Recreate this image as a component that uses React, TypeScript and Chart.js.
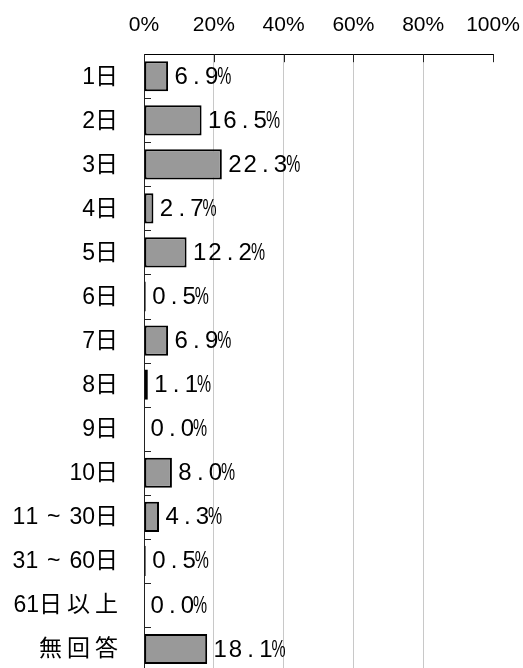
import React, { useEffect, useRef } from "react";
import { Chart, registerables } from "chart.js";

Chart.register(...registerables);

const categories: string[] = [
  "1日", "2日", "3日", "4日", "5日", "6日", "7日", "8日", "9日", "10日",
  "11 ~ 30日", "31 ~ 60日", "61日以上", "無回答",
];
const values: number[] = [6.9, 16.5, 22.3, 2.7, 12.2, 0.5, 6.9, 1.1, 0.0, 8.0, 4.3, 0.5, 0.0, 18.1];
const xTicks: number[] = [0, 20, 40, 60, 80, 100];

const FONT_SANS = '"Liberation Sans", Arial, "Noto Sans CJK JP", sans-serif';

const isCJK = (ch: string) => /[\u3000-\u9fff\uff00-\uffef]/.test(ch);

function drawSpacedRight(ctx: CanvasRenderingContext2D, text: string, right: number, y: number) {
  const chars = Array.from(text);
  const widths = chars.map((ch, i) => {
    let w = ctx.measureText(ch).width;
    if (ch === " ") w += 2.5;
    if (isCJK(ch) && i < chars.length - 1 && isCJK(chars[i + 1])) w += 5;
    return w;
  });
  const total = widths.reduce((a, b) => a + b, 0);
  let x = right - total;
  ctx.textAlign = "left";
  chars.forEach((ch, i) => {
    ctx.fillText(ch, x, y);
    x += widths[i];
  });
}

const customPlugin = {
  id: "custom",
  afterDraw(chart: any) {
    const ctx = chart.ctx as CanvasRenderingContext2D;
    const y = chart.scales.y;
    const area = chart.chartArea;
    const n = categories.length;
    const step = (area.bottom - area.top) / n;

    // inner category tick marks on left axis
    ctx.save();
    ctx.strokeStyle = "#222";
    ctx.lineWidth = 1;
    for (let i = 1; i < n; i++) {
      const py = Math.round(y.getPixelForValue(i) - step / 2) + 0.5;
      ctx.beginPath();
      ctx.moveTo(area.left, py);
      ctx.lineTo(area.left + 7, py);
      ctx.stroke();
    }
    // inner tick marks on top axis
    const x = chart.scales.x;
    for (const t of xTicks) {
      const px = Math.round(x.getPixelForValue(t)) + 0.5;
      ctx.beginPath();
      ctx.moveTo(px, area.top);
      ctx.lineTo(px, area.top + 8);
      ctx.stroke();
    }
    ctx.restore();

    // y labels
    ctx.save();
    ctx.fillStyle = "#000";
    ctx.font = `23px ${FONT_SANS}`;
    ctx.textBaseline = "middle";
    categories.forEach((c, i) => {
      const py = y.getPixelForValue(i) + 1;
      drawSpacedRight(ctx, c, area.left - 26, py);
    });
    ctx.restore();

    // data labels
    const meta = chart.getDatasetMeta(0);
    ctx.save();
    ctx.fillStyle = "#000";
    ctx.font = `24px ${FONT_SANS}`;
    ctx.textBaseline = "middle";
    meta.data.forEach((bar: any, i: number) => {
      const text = values[i].toFixed(1);
      let cx = bar.x + 5.5;
      const cy = bar.y + 1;
      const cell = 15.2;
      ctx.textAlign = "center";
      for (const ch of text) {
        ctx.fillText(ch, cx + cell / 2, cy);
        cx += cell;
      }
      ctx.save();
      ctx.translate(cx - 2, cy);
      ctx.scale(0.66, 1);
      ctx.textAlign = "left";
      ctx.fillText("%", 0, 0);
      ctx.restore();
    });
    ctx.restore();
  },
};

export default function App() {
  const ref = useRef<HTMLCanvasElement | null>(null);
  useEffect(() => {
    document.body.style.margin = "0";
    const canvas = ref.current!;
    const chart = new Chart(canvas, {
      type: "bar",
      data: {
        labels: categories,
        datasets: [
          {
            data: values,
            backgroundColor: "#999999",
            borderColor: "#000000",
            borderWidth: 2,
            borderSkipped: false,
            barPercentage: 0.685,
            categoryPercentage: 1,
          },
        ],
      },
      options: {
        indexAxis: "y",
        responsive: false,
        animation: false,
        maintainAspectRatio: false,
        layout: { padding: { left: 144, right: 30, top: -3, bottom: 1 } },
        plugins: { legend: { display: false }, tooltip: { enabled: false } },
        scales: {
          x: {
            position: "top",
            min: 0,
            max: 100,
            afterBuildTicks: (axis: any) => {
              axis.ticks = xTicks.map((v) => ({ value: v }));
            },
            afterFit: (axis: any) => {
              axis.paddingLeft = 0;
              axis.paddingRight = 0;
            },
            ticks: {
              callback: (v: any) => `${v}%`,
              color: "#000",
              font: { family: FONT_SANS, size: 21 },
              padding: 16,
              maxRotation: 0,
            },
            grid: {
              drawTicks: false,
              color: (c: any) =>
                c.tick && (c.tick.value === 0 || c.tick.value === 100) ? "rgba(0,0,0,0)" : "#c8c8c8",
              lineWidth: 1,
            },
            border: { display: true, color: "#000", width: 1 },
          },
          y: {
            ticks: { display: false },
            grid: { display: false, drawTicks: false },
            border: { display: true, color: "#222", width: 1 },
          },
        },
      },
      plugins: [customPlugin],
    });
    return () => chart.destroy();
  }, []);
  return (
    <div style={{ position: "relative", width: 523, height: 668, overflow: "hidden" }}>
      <canvas ref={ref} width={523} height={672} style={{ display: "block" }} />
    </div>
  );
}
